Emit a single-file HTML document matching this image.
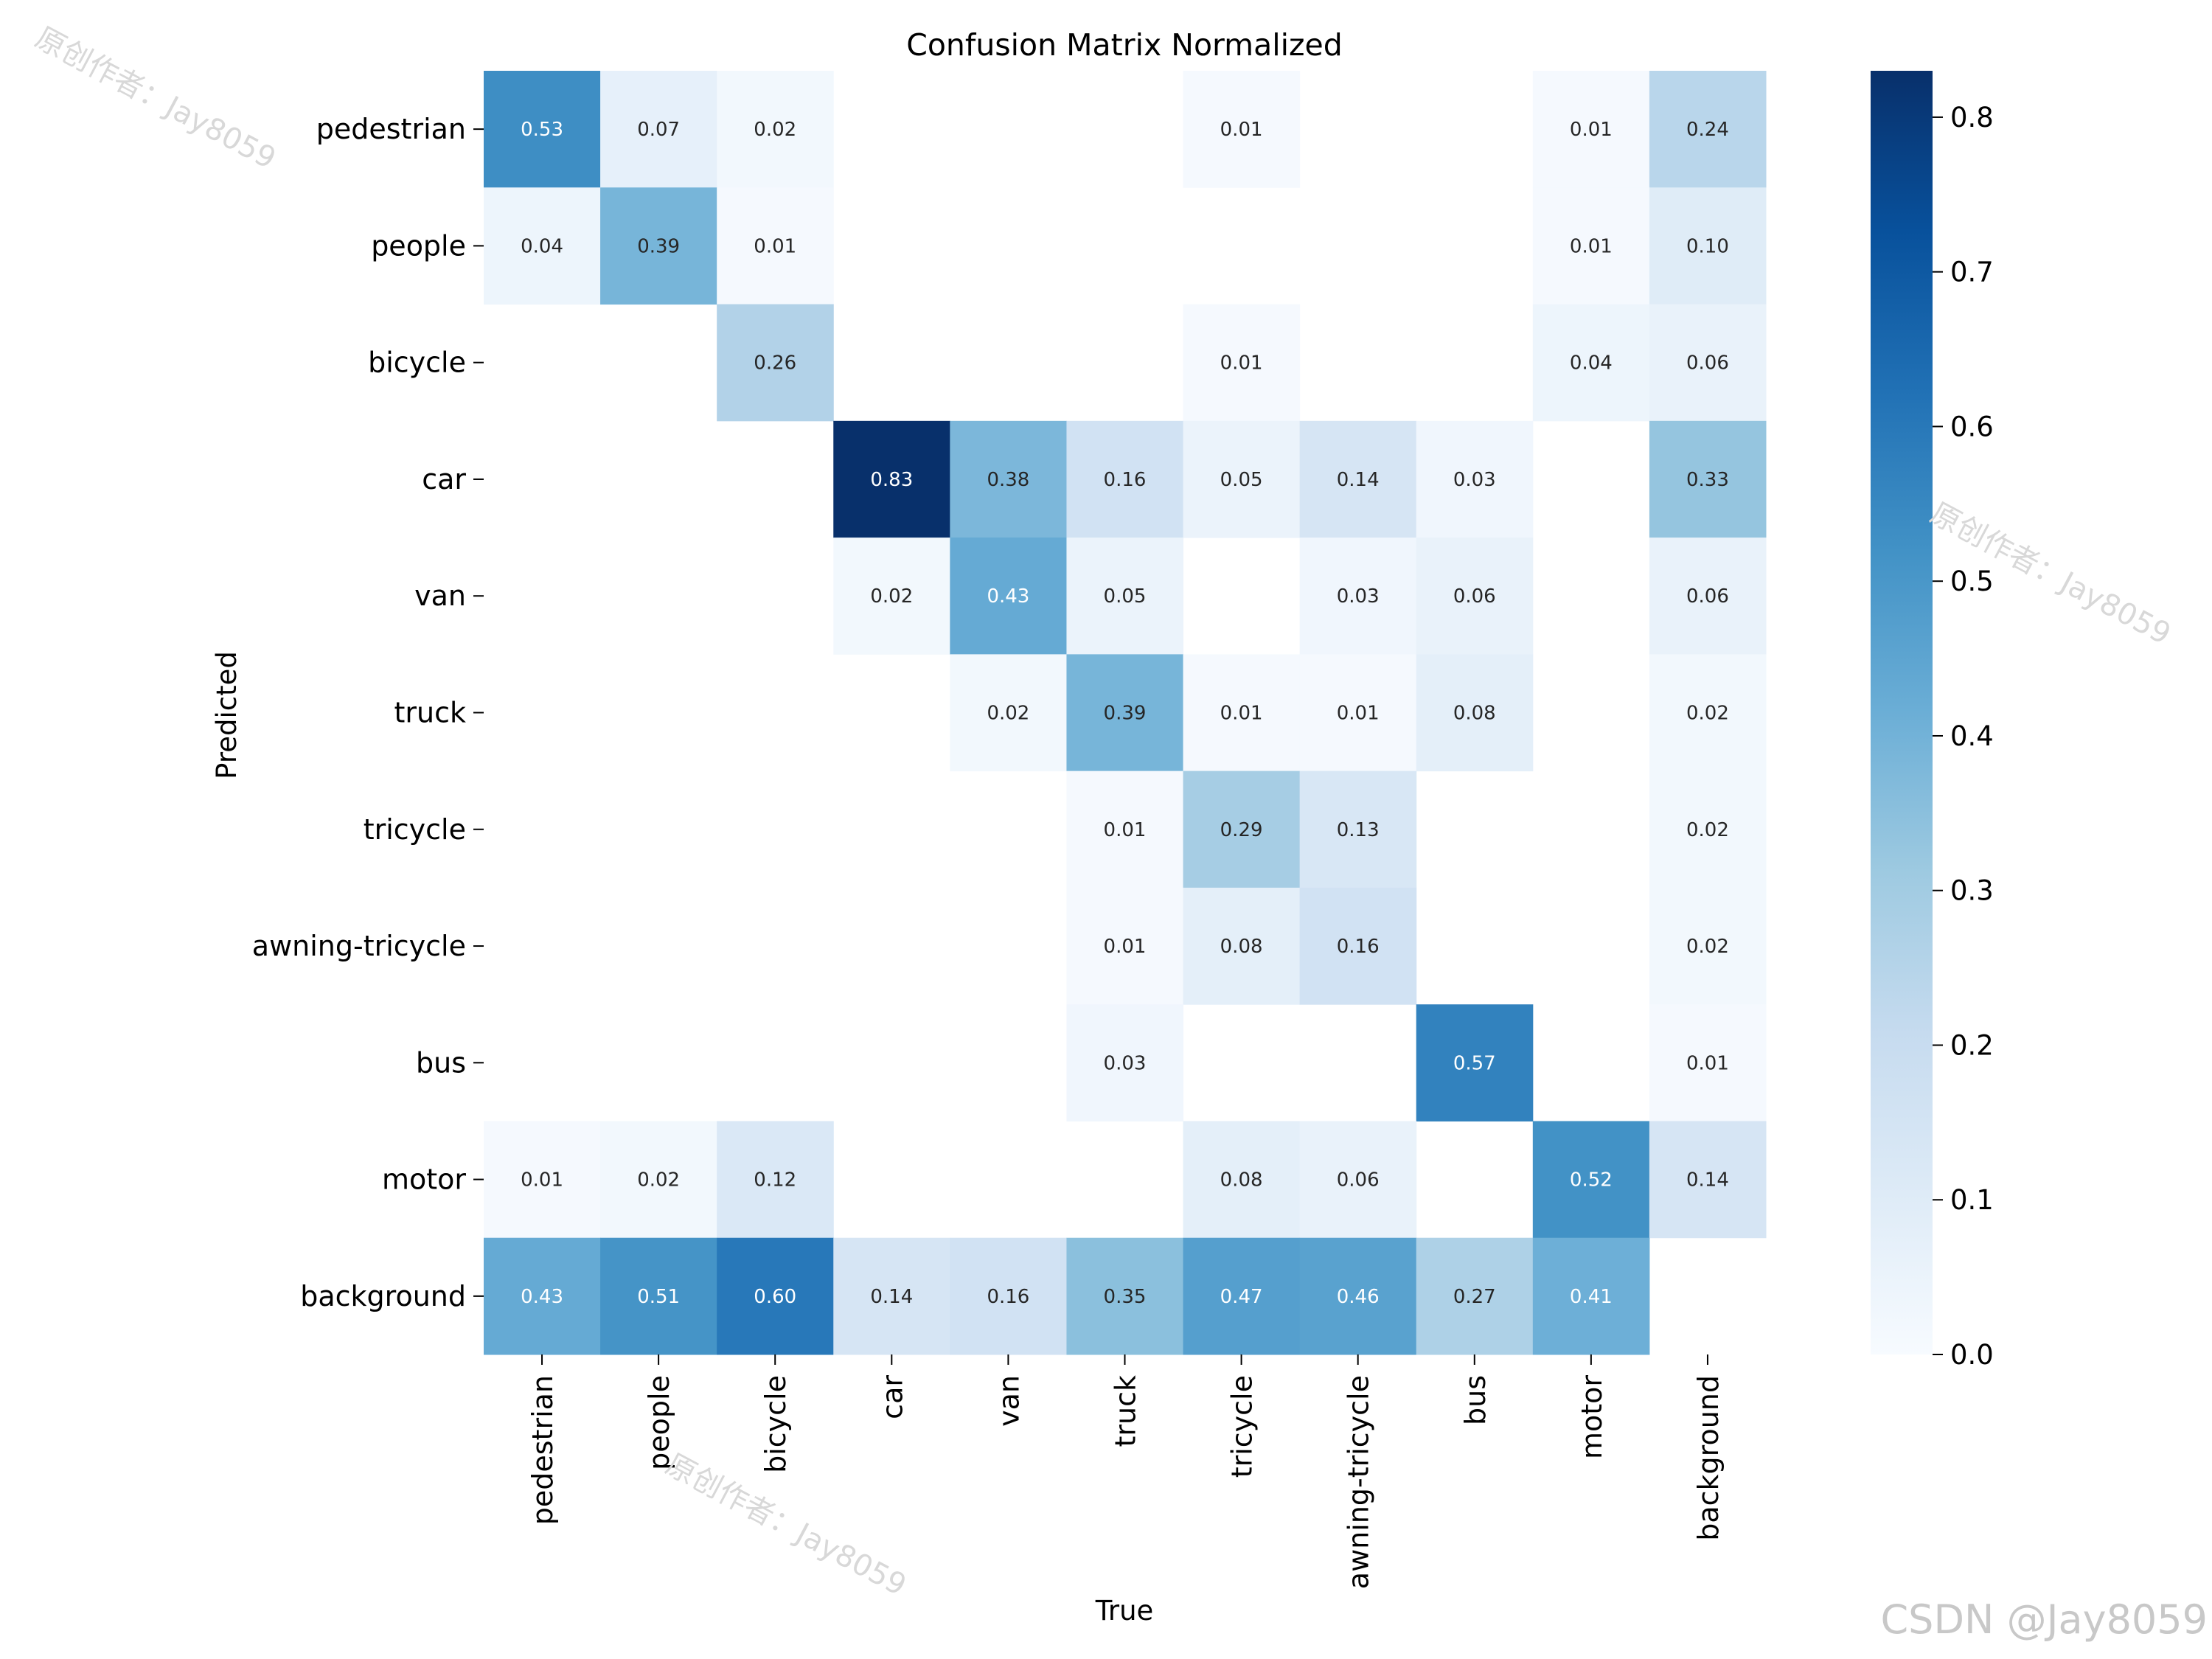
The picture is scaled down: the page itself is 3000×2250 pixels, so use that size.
<!DOCTYPE html>
<html><head><meta charset="utf-8"><style>
html,body{margin:0;padding:0;background:#fff;}
svg{display:block;font-family:"DejaVu Sans","Liberation Sans","Noto Sans CJK SC",sans-serif;}
</style></head><body>
<svg id="chart" width="3000" height="2250" viewBox="0 0 3000 2250" xmlns="http://www.w3.org/2000/svg">
<rect width="3000" height="2250" fill="#fff"/>
<text x="1525" y="75" font-size="41" text-anchor="middle" fill="#000">Confusion Matrix Normalized</text>
<text x="1525" y="2197" font-size="37" text-anchor="middle" fill="#000">True</text>
<text x="0" y="0" font-size="37" text-anchor="middle" fill="#000" transform="translate(320,970) rotate(-90)">Predicted</text>
<g id="cells"></g>
<g id="ylabels"></g>
<g id="xlabels"></g>
<g id="cbar"></g>
<text x="0" y="0" font-size="40" fill="#d8d8d8" transform="translate(45,60) rotate(28)">原创作者：Jay8059</text>
<text x="0" y="0" font-size="40" fill="#d8d8d8" transform="translate(2615,705) rotate(28)">原创作者：Jay8059</text>
<text x="0" y="0" font-size="40" fill="#d8d8d8" transform="translate(900,1995) rotate(28)">原创作者：Jay8059</text>
<text x="2994" y="2215" font-size="54" text-anchor="end" fill="#c8c8c8">CSDN @Jay8059</text>
</svg>
<script>
const categories = ["pedestrian","people","bicycle","car","van","truck","tricycle","awning-tricycle","bus","motor","background"];
const matrixValues = [
 [0.53,0.07,0.02,null,null,null,0.01,null,null,0.01,0.24],
 [0.04,0.39,0.01,null,null,null,null,null,null,0.01,0.10],
 [null,null,0.26,null,null,null,0.01,null,null,0.04,0.06],
 [null,null,null,0.83,0.38,0.16,0.05,0.14,0.03,null,0.33],
 [null,null,null,0.02,0.43,0.05,null,0.03,0.06,null,0.06],
 [null,null,null,null,0.02,0.39,0.01,0.01,0.08,null,0.02],
 [null,null,null,null,null,0.01,0.29,0.13,null,null,0.02],
 [null,null,null,null,null,0.01,0.08,0.16,null,null,0.02],
 [null,null,null,null,null,0.03,null,null,0.57,null,0.01],
 [0.01,0.02,0.12,null,null,null,0.08,0.06,null,0.52,0.14],
 [0.43,0.51,0.60,0.14,0.16,0.35,0.47,0.46,0.27,0.41,null]
];
const colorbarTicks = [0.0,0.1,0.2,0.3,0.4,0.5,0.6,0.7,0.8];
const vmax = 0.83;

const NS="http://www.w3.org/2000/svg";
const L=656,R=2395,T=96,B=1837;
const n=categories.length, cw=(R-L)/n, ch=(B-T)/n;
const xPos=i=>L+i*cw, yPos=j=>T+j*ch;
const stops=[[247,251,255],[222,235,247],[198,219,239],[158,202,225],[107,174,214],[66,146,198],[33,113,181],[8,81,156],[8,48,107]];
function blues(v){let t=Math.max(0,Math.min(1,v/vmax))*8;let i=Math.min(7,Math.floor(t));let f=t-i;const a=stops[i],b=stops[i+1];
 return `rgb(${a.map((c,k)=>Math.round(c+(b[k]-c)*f)).join(',')})`;}
function lum(v){let t=Math.max(0,Math.min(1,v/vmax))*8;let i=Math.min(7,Math.floor(t));let f=t-i;const a=stops[i],b=stops[i+1];
 const c=a.map((x,k)=>(x+(b[k]-x)*f)/255).map(x=>x<=0.03928?x/12.92:Math.pow((x+0.055)/1.055,2.4));return 0.2126*c[0]+0.7152*c[1]+0.0722*c[2];}
function mk(tag,attrs,parent,txt){const e=document.createElementNS(NS,tag);for(const k in attrs)e.setAttribute(k,attrs[k]);if(txt!==undefined)e.textContent=txt;parent.appendChild(e);return e;}

const cells=document.getElementById('cells');
matrixValues.forEach((row,j)=>row.forEach((v,i)=>{
 if(v===null)return;
 const r=mk('rect',{x:xPos(i),y:yPos(j),width:cw+0.5,height:ch+0.5,fill:blues(v)},cells);
 
 
 const t=mk('text',{x:xPos(i)+cw/2,y:yPos(j)+ch/2+9,'font-size':26,'text-anchor':'middle',fill:lum(v)<0.408?'#fff':'#262626'},cells,v.toFixed(2));
 
 
}));
const yl=document.getElementById('ylabels'), xl=document.getElementById('xlabels');
categories.forEach((c,j)=>{
 const y=yPos(j)+ch/2;
 mk('line',{x1:L-14,x2:L,y1:y,y2:y,stroke:'#000','stroke-width':2},yl);
 const t=mk('text',{x:L-24,y:y+13,'font-size':38,'text-anchor':'end',fill:'#000'},yl,c);
 
 
 const x=xPos(j)+cw/2;
 mk('line',{x1:x,x2:x,y1:B,y2:B+14,stroke:'#000','stroke-width':2},xl);
 const u=mk('text',{x:0,y:0,'font-size':38,'text-anchor':'end',fill:'#000',transform:`translate(${x+14},${B+28}) rotate(-90)`},xl,c);
 
 
});
const cb=document.getElementById('cbar');
const CL=2537,CR=2621;
const defs=mk('defs',{},cb);
const g=mk('linearGradient',{id:'bg',x1:0,y1:1,x2:0,y2:0},defs);
stops.forEach((s,k)=>mk('stop',{offset:k/8,'stop-color':`rgb(${s.join(',')})`},g));
mk('rect',{x:CL,y:T,width:CR-CL,height:B-T,fill:'url(#bg)'},cb);
colorbarTicks.forEach(v=>{
 const y=B-v/vmax*(B-T);
 mk('line',{x1:CR,x2:CR+14,y1:y,y2:y,stroke:'#000','stroke-width':2},cb);
 const t=mk('text',{x:CR+24,y:y+13,'font-size':37,fill:'#000'},cb,v.toFixed(1));
 
 
});
</script>
</body></html>
